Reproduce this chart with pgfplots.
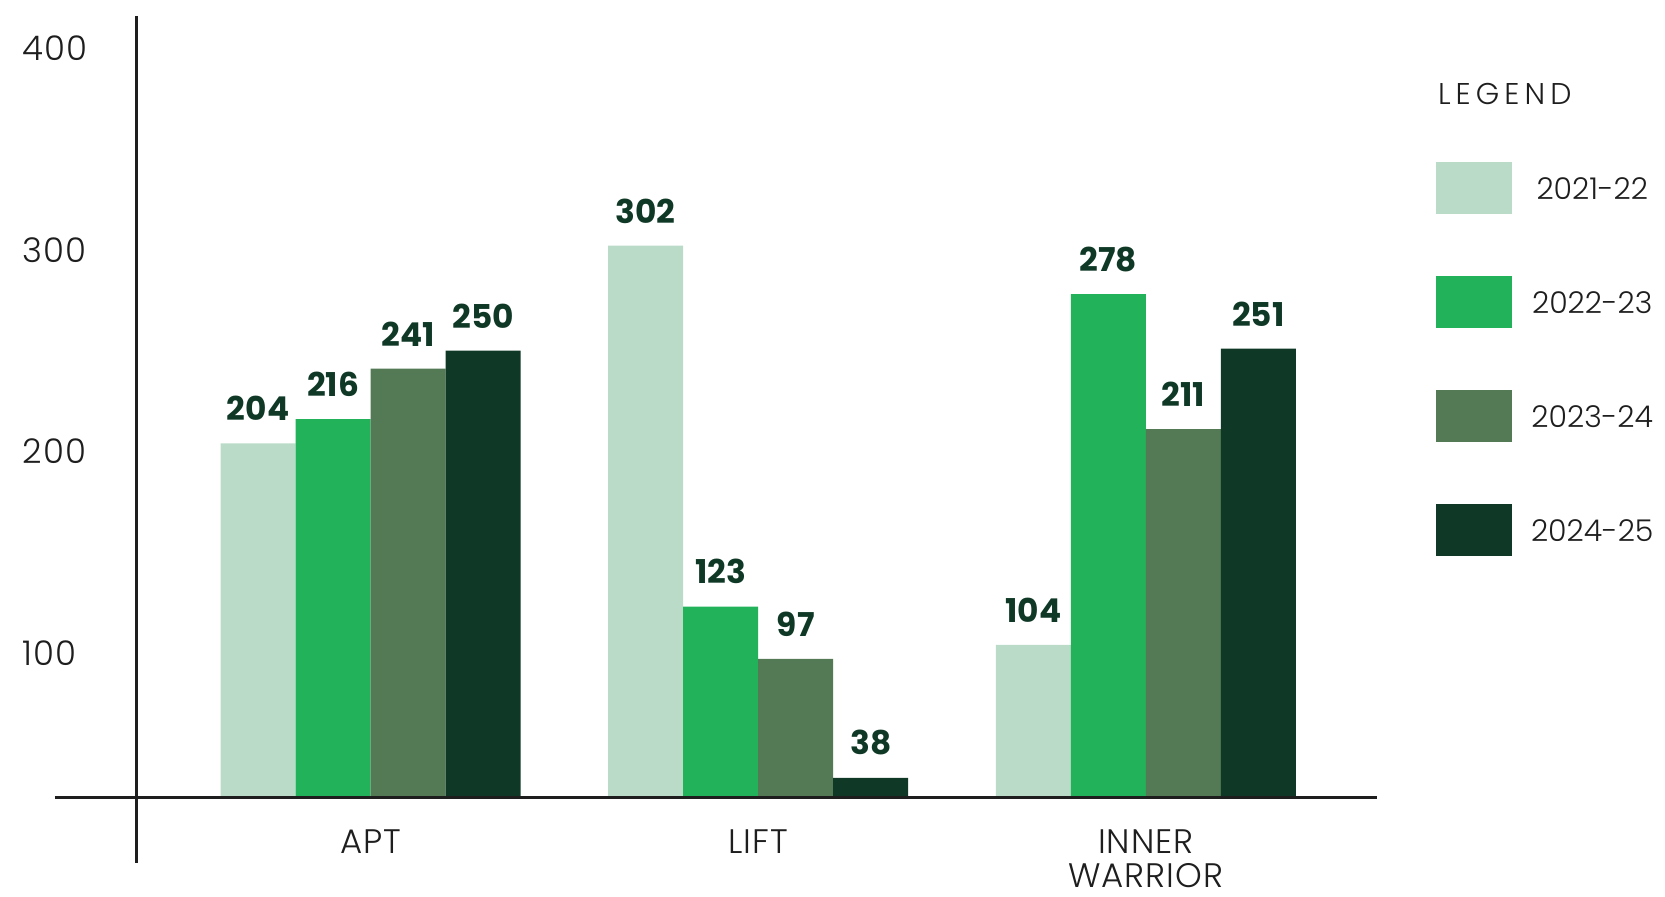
\documentclass[border=0pt]{standalone}
\usepackage{pgfplots}
\pgfplotsset{compat=1.18}
\usepackage{fontspec}
\setmainfont{Poppins}
\IfFontExistsTF{Poppins Light}{%
  \newfontfamily\lightfont{Poppins Light}[LetterSpace=3]%
  \newfontfamily\plainlight{Poppins Light}%
  \newfontfamily\legtitlefont{Poppins Light}[LetterSpace=17]}{%
  \newfontfamily\lightfont{Poppins}[LetterSpace=3]%
  \newfontfamily\plainlight{Poppins}%
  \newfontfamily\legtitlefont{Poppins}[LetterSpace=17]}
\definecolor{cA}{HTML}{B9DBC7}
\definecolor{cB}{HTML}{22B25A}
\definecolor{cC}{HTML}{537A54}
\definecolor{cD}{HTML}{0F3926}
\definecolor{txt}{HTML}{1E1E1E}
\newcommand\tickfont{\lightfont\fontsize{17}{17.4}\selectfont}
\newcommand\legfont{\plainlight\fontsize{15}{16}\selectfont}
\begin{document}
\begin{tikzpicture}
\useasboundingbox (-68pt,-49.5pt) rectangle (764.5pt,399pt);
\begin{axis}[name=a, at={(0,0)}, anchor=south west,
  scale only axis, width=620.5pt, height=391pt,
  ybar=0pt, bar width=37.5pt,
  xmin=-0.6053, xmax=2.5965, ymin=28, ymax=416,
  axis line style={draw=none}, major tick length=0pt,
  xtick={0,1,2}, xticklabels={APT,LIFT,{INNER\\WARRIOR}},
  xticklabel style={align=center, anchor=north, inner sep=0pt, text depth=0pt, yshift=-15.5pt, font=\tickfont, text=txt},
  ytick={100,200,300,400},
  yticklabel style={anchor=west, inner sep=0pt, xshift=-56.7pt, font=\tickfont, text=txt},
  /pgf/number format/assume math mode=true,
  nodes near coords,
  every node near coord/.append style={anchor=south, inner sep=0pt, yshift=11pt,
     font=\bfseries\fontsize{16.4}{16}\selectfont, text=cD},
  legend style={at={(0,1)}, anchor=north west, xshift=650pt, yshift=-72.9pt,
     draw=none, fill=none, inner sep=0pt, outer sep=0pt, row sep=31pt, column sep=9.5pt,
     font=\legfont, text=txt, nodes={inner sep=0pt}},
]
\addplot[fill=cA, draw=none, legend image code/.code={\fill[cA] (0pt,-11.7pt) rectangle (38pt,14.3pt);}]
  coordinates {(0,204) (1,302) (2,104)};
\addlegendentry{2021-22}
\addplot[fill=cB, draw=none, legend image code/.code={\fill[cB] (0pt,-11.7pt) rectangle (38pt,14.3pt);}]
  coordinates {(0,216) (1,123) (2,278)};
\addlegendentry{2022-23}
\addplot[fill=cC, draw=none, legend image code/.code={\fill[cC] (0pt,-11.7pt) rectangle (38pt,14.3pt);}]
  coordinates {(0,241) (1,97) (2,211)};
\addlegendentry{2023-24}
\addplot[fill=cD, draw=none, legend image code/.code={\fill[cD] (0pt,-11.7pt) rectangle (38pt,14.3pt);}]
  coordinates {(0,250) (1,38) (2,251)};
\addlegendentry{2024-25}
\end{axis}
\draw[line width=1.5pt, color=txt] ([xshift=-40.5pt]a.south west) -- (a.south east);
\draw[line width=1.5pt, color=txt] (a.north west) -- ([yshift=-32.5pt]a.south west);
\node[anchor=base west, inner sep=0pt, font=\legtitlefont\fontsize{15}{16}\selectfont, text=txt] at ([xshift=650.8pt, yshift=-44.5pt]a.north west) {LEGEND};
\end{tikzpicture}
\end{document}
